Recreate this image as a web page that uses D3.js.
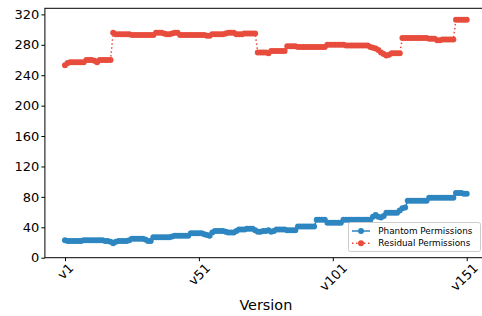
<!DOCTYPE html>
<html>
<head>
<meta charset="utf-8">
<script src="https://cdn.jsdelivr.net/npm/d3@7"></script>
<style>
  body { margin: 0; background: #fff; }
  svg { display: block; font-family: "DejaVu Sans", sans-serif; }
</style>
</head>
<body>
<div id="chart"></div>
<script>
// chart size
var width = 482;
var height = 316;

// tick labels on the x axis (version index -> label)
var xTickIdx = [0, 50, 100, 150];
var xTickLabels = ["v1", "v51", "v101", "v151"];
var yTicks = [0, 40, 80, 120, 160, 200, 240, 280, 320];

// phantom permissions per version (v1 .. v151)
var phantom = [
  23, 22, 22, 22, 22, 22, 22, 23, 23, 23,
  23, 23, 23, 23, 23, 22, 22, 21, 19, 21,
  22, 22, 22, 22, 23, 25, 25, 25, 25, 25,
  24, 22, 22, 27, 27, 27, 27, 27, 27, 27,
  28, 29, 29, 29, 29, 29, 29, 32, 32, 32,
  32, 32, 31, 30, 29, 33, 35, 35, 35, 35,
  34, 33, 33, 33, 35, 37, 37, 37, 38, 38,
  38, 36, 34, 34, 35, 35, 36, 34, 35, 37,
  37, 37, 37, 36, 36, 36, 36, 41, 41, 41,
  41, 41, 41, 41, 50, 50, 50, 50, 46, 46,
  46, 46, 46, 46, 50, 50, 50, 50, 50, 50,
  50, 50, 50, 50, 50, 54, 56, 54, 53, 55,
  59, 59, 59, 59, 59, 62, 65, 66, 75, 75,
  75, 75, 75, 75, 75, 75, 79, 79, 79, 79,
  79, 79, 79, 79, 79, 79, 85, 85, 85, 84,
  84
];

// residual permissions per version (v1 .. v151)
var residual = [
  253, 256, 257, 257, 257, 257, 257, 257, 260, 260,
  260, 259, 257, 260, 260, 260, 260, 260, 296, 294,
  294, 294, 294, 294, 294, 293, 293, 293, 293, 293,
  293, 293, 293, 293, 296, 296, 296, 295, 294, 294,
  295, 296, 296, 293, 293, 293, 293, 293, 293, 293,
  293, 293, 293, 292, 292, 294, 294, 294, 294, 294,
  295, 296, 296, 296, 294, 294, 294, 295, 295, 295,
  295, 295, 270, 270, 270, 270, 269, 272, 272, 272,
  272, 272, 272, 278, 278, 278, 278, 277, 277, 277,
  277, 277, 277, 277, 277, 277, 277, 277, 280, 280,
  280, 280, 280, 280, 280, 279, 279, 279, 279, 279,
  279, 279, 279, 279, 277, 276, 275, 273, 270, 268,
  266, 267, 269, 269, 269, 269, 289, 289, 289, 289,
  289, 289, 289, 289, 289, 289, 288, 288, 288, 286,
  286, 287, 287, 287, 287, 287, 313, 313, 313, 313,
  313
];

var seriesNames = ["Phantom Permissions", "Residual Permissions"];
var blue = "#2e86c1";
var red = "#e74c3c";

var svg = d3.select("#chart")
  .append("svg")
  .attr("width", width)
  .attr("height", height);

// x runs a bit past the right edge, the figure is cropped there
var x = d3.scaleLinear()
  .domain([-7.5, 157.5])
  .range([44.9, 486.8]);

var y = d3.scaleLinear()
  .domain([0, 328])
  .range([257.7, 8.3]);

// frame
svg.append("rect")
  .attr("x", x.range()[0])
  .attr("y", y.range()[1])
  .attr("width", x.range()[1] - x.range()[0])
  .attr("height", y.range()[0] - y.range()[1])
  .attr("fill", "none")
  .attr("stroke", "#000")
  .attr("stroke-width", 1);

// y axis
var yAxis = svg.append("g")
  .attr("transform", "translate(" + x.range()[0] + ",0)")
  .call(d3.axisLeft(y).tickValues(yTicks).tickSize(3.5).tickPadding(2));
yAxis.select(".domain").remove();
yAxis.selectAll("text")
  .attr("font-size", 13)
  .attr("font-family", "DejaVu Sans")
  .attr("fill", "#000");

// x axis with 45 degree labels
var xAxis = svg.append("g")
  .attr("transform", "translate(0," + y.range()[0] + ")")
  .call(d3.axisBottom(x).tickValues(xTickIdx).tickSize(3.5)
    .tickFormat(function(d, i) { return xTickLabels[i]; }));
xAxis.select(".domain").remove();
xAxis.selectAll("text")
  .attr("font-size", 13)
  .attr("font-family", "DejaVu Sans")
  .attr("fill", "#000")
  .attr("dy", null)
  .attr("text-anchor", "middle")
  .attr("dominant-baseline", "central")
  .each(function() {
    var w = this.getComputedTextLength();
    var h = 13 * 1.16;
    var H = (w + h) * Math.SQRT1_2;
    var cy = 2.8 + H / 2;
    var sel = d3.select(this)
      .attr("y", cy)
      .attr("transform", "rotate(-45,0," + cy + ")");
    // keep the last label inside the picture
    var r = this.getBoundingClientRect().right;
    if (r > width - 1) {
      var dx = width - 1 - r;
      sel.attr("x", dx)
        .attr("transform", "rotate(-45," + dx + "," + cy + ")");
    }
  });

svg.append("text")
  .attr("x", (x.range()[0] + x.range()[1]) / 2)
  .attr("y", 310)
  .attr("text-anchor", "middle")
  .attr("font-size", 14.4)
  .attr("fill", "#000")
  .text("Version");

// series
var line = d3.line()
  .x(function(d, i) { return x(i); })
  .y(function(d) { return y(d); });

svg.append("path")
  .datum(phantom)
  .attr("d", line)
  .attr("fill", "none")
  .attr("stroke", blue)
  .attr("stroke-width", 1.5);
svg.append("g").selectAll("circle")
  .data(phantom)
  .enter()
  .append("circle")
  .attr("cx", function(d, i) { return x(i); })
  .attr("cy", function(d) { return y(d); })
  .attr("r", 3)
  .attr("fill", blue);

svg.append("path")
  .datum(residual)
  .attr("d", line)
  .attr("fill", "none")
  .attr("stroke", red)
  .attr("stroke-width", 1.5)
  .attr("stroke-dasharray", "1.5,2.5");
svg.append("g").selectAll("circle")
  .data(residual)
  .enter()
  .append("circle")
  .attr("cx", function(d, i) { return x(i); })
  .attr("cy", function(d) { return y(d); })
  .attr("r", 3)
  .attr("fill", red);

// legend, lower right
var legend = svg.append("g").attr("class", "legend");
legend.append("rect")
  .attr("x", 348.5)
  .attr("y", 222.5)
  .attr("width", 132)
  .attr("height", 29)
  .attr("rx", 2)
  .attr("fill", "#fff")
  .attr("fill-opacity", 0.8)
  .attr("stroke", "#ccc")
  .attr("stroke-width", 1);

var items = legend.selectAll("g.item")
  .data(seriesNames)
  .enter()
  .append("g")
  .attr("class", "item")
  .attr("transform", function(d, i) { return "translate(0," + (231 + i * 12.3) + ")"; });
items.append("line")
  .attr("x1", 352)
  .attr("x2", 370)
  .attr("stroke", function(d, i) { return i ? red : blue; })
  .attr("stroke-width", 1.5)
  .attr("stroke-dasharray", function(d, i) { return i ? "1.5,2.5" : null; });
items.append("circle")
  .attr("cx", 361)
  .attr("r", 3)
  .attr("fill", function(d, i) { return i ? red : blue; });
items.append("text")
  .attr("x", 378.3)
  .attr("dominant-baseline", "central")
  .attr("font-size", 8.8)
  .attr("fill", "#000")
  .text(function(d) { return d; });
</script>
</body>
</html>
